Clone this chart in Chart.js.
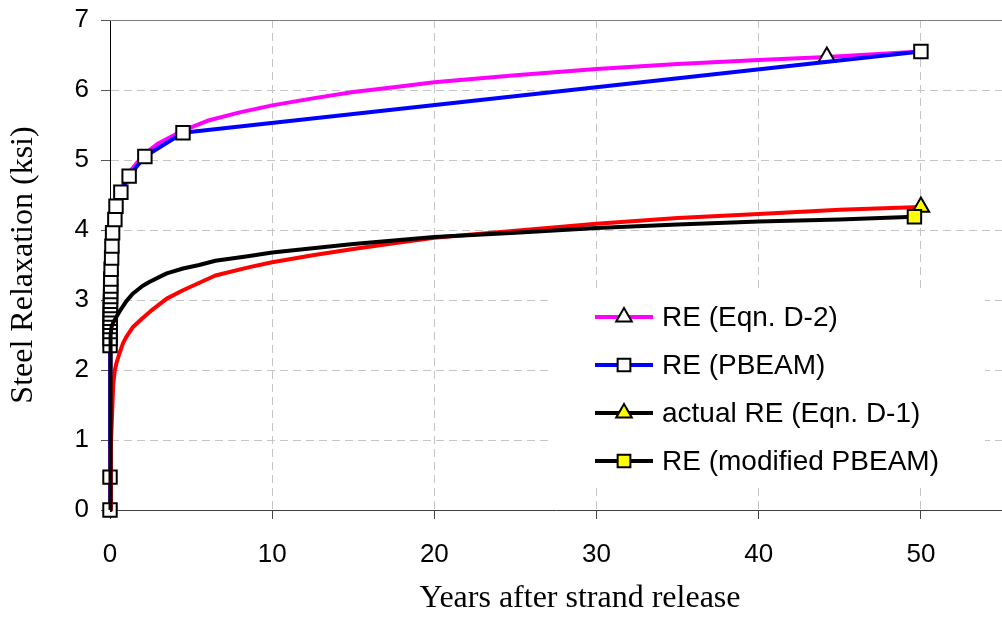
<!DOCTYPE html>
<html>
<head>
<meta charset="utf-8">
<script src="https://cdn.jsdelivr.net/npm/chart.js@4/dist/chart.umd.min.js"></script>
<style>
  body { margin: 0; background: #fff; }
  canvas { display: block; }
</style>
</head>
<body>
<canvas id="mychart" width="1002" height="620"></canvas>
<script>
// series names, in legend order
const seriesNames = ["RE (Eqn. D-2)", "RE (PBEAM)", "actual RE (Eqn. D-1)", "RE (modified PBEAM)"];

// RE (Eqn. D-2) - magenta, one marker only
const d2Years = [0, 0.005, 0.03, 0.08, 0.15, 0.3, 0.55, 1.1, 2.1, 3, 4.5, 6, 8, 10, 12.5, 15, 17.5, 20, 25, 30, 35, 40, 44.2, 50];
const d2Relax = [0, 2.4, 3.2, 3.55, 3.9, 4.2, 4.5, 4.8, 5.08, 5.24, 5.42, 5.56, 5.68, 5.78, 5.88, 5.97, 6.04, 6.11, 6.21, 6.30, 6.37, 6.43, 6.47, 6.55];
const d2MarkerYear = 44.2;

// RE (PBEAM) - blue, marker on every point
const pbYears = [0, 0.001, 0.003, 0.005, 0.007, 0.009, 0.012, 0.015, 0.018, 0.022, 0.026, 0.03, 0.035, 0.04, 0.045, 0.05, 0.07, 0.1, 0.12, 0.16, 0.3, 0.37, 0.67, 1.18, 2.15, 4.5, 50];
const pbRelax = [0, 0.47, 2.35, 2.45, 2.55, 2.62, 2.68, 2.74, 2.80, 2.86, 2.92, 2.98, 3.05, 3.12, 3.20, 3.30, 3.44, 3.60, 3.77, 3.96, 4.15, 4.34, 4.54, 4.77, 5.05, 5.39, 6.55];

// actual RE (Eqn. D-1) - red, marker at the end
const d1Years = [0, 0.05, 0.15, 0.2, 0.3, 0.4, 0.6, 0.8, 1.0, 1.4, 2, 2.5, 3.5, 4.5, 6.5, 8.6, 10, 12.5, 15, 17.5, 20, 25, 30, 35, 40, 45, 50];
const d1Relax = [0, 0.9, 1.5, 1.8, 2.0, 2.1, 2.25, 2.38, 2.47, 2.61, 2.74, 2.84, 3.02, 3.14, 3.35, 3.47, 3.54, 3.64, 3.73, 3.81, 3.89, 3.99, 4.09, 4.17, 4.23, 4.29, 4.33];

// RE (modified PBEAM) - black, marker at the end
const mpYears = [0, 0.02, 0.05, 0.1, 0.2, 0.4, 0.6, 1.0, 1.4, 2, 2.45, 3.5, 4.5, 5.5, 6.5, 8.6, 10, 12.5, 15, 17.5, 20, 25, 30, 35, 40, 45, 49.6];
const mpRelax = [0, 2.0, 2.5, 2.62, 2.68, 2.76, 2.84, 2.98, 3.09, 3.2, 3.26, 3.38, 3.45, 3.50, 3.56, 3.63, 3.68, 3.74, 3.80, 3.85, 3.90, 3.96, 4.03, 4.08, 4.12, 4.15, 4.19];

const xTicks = [0, 10, 20, 30, 40, 50];
const yTicks = [0, 1, 2, 3, 4, 5, 6, 7];

function pts(xs, ys) {
    return xs.map((x, i) => ({x: x, y: ys[i]}));
}

const sansFont = "'Liberation Sans', Arial, sans-serif";
const serifFont = "'Liberation Serif', 'Times New Roman', serif";

// legend drawn inside the plot, line sample + marker + text
const boxLegend = {
    id: "boxLegend",
    afterDatasetsDraw(chart) {
        const ctx = chart.ctx;
        const area = chart.chartArea;
        ctx.save();
        // plot top border
        ctx.strokeStyle = "#808080";
        ctx.lineWidth = 1;
        ctx.beginPath();
        ctx.moveTo(area.left, Math.round(area.top) + 0.5);
        ctx.lineTo(area.right, Math.round(area.top) + 0.5);
        ctx.stroke();

        ctx.fillStyle = "#fff";
        ctx.fillRect(552, 290, 433, 193);

        const rows = [317, 365, 413, 461];
        chart.data.datasets.forEach((ds, i) => {
            const y = rows[i];
            ctx.strokeStyle = ds.legendLine;
            ctx.lineWidth = 4;
            ctx.beginPath();
            ctx.moveTo(595, y);
            ctx.lineTo(653, y);
            ctx.stroke();
            drawMarker(ctx, ds.pointStyle, 624, y, 9, ds.pointBackgroundColor);
            ctx.fillStyle = "#000";
            ctx.font = "28px " + sansFont;
            ctx.textBaseline = "middle";
            ctx.textAlign = "left";
            ctx.fillText(ds.label, 662, y + 1);
        });
        ctx.restore();
    }
};

function drawMarker(ctx, style, x, y, r, fill) {
    ctx.beginPath();
    if (style === "rect") {
        const s = r * Math.SQRT1_2;
        ctx.rect(x - s, y - s, 2 * s, 2 * s);
    } else {
        ctx.moveTo(x, y - r);
        ctx.lineTo(x + 0.866 * r, y + 0.5 * r);
        ctx.lineTo(x - 0.866 * r, y + 0.5 * r);
        ctx.closePath();
    }
    ctx.fillStyle = fill;
    ctx.fill();
    ctx.strokeStyle = "#000";
    ctx.lineWidth = 2;
    ctx.stroke();
}

const lastOnly = (xs) => (c) => (c.dataIndex === xs.length - 1 ? 9.5 : 0);

new Chart("mychart", {
    type: "line",
    data: {
        datasets: [{
            label: seriesNames[0],
            data: pts(d2Years, d2Relax),
            borderColor: "#ff00ff",
            legendLine: "#ff00ff",
            borderWidth: 4,
            pointStyle: "triangle",
            pointBackgroundColor: "#fff",
            pointBorderColor: "#000",
            pointBorderWidth: 2,
            pointRadius: (c) => (d2Years[c.dataIndex] === d2MarkerYear ? 9.5 : 0),
            clip: false,
            order: 4
        }, {
            label: seriesNames[1],
            data: pts(pbYears, pbRelax),
            borderColor: "#0000ff",
            legendLine: "#0000ff",
            borderWidth: 4,
            pointStyle: "rect",
            pointBackgroundColor: "#fff",
            pointBorderColor: "#000",
            pointBorderWidth: 2,
            pointRadius: 9.5,
            clip: false,
            order: 3
        }, {
            label: seriesNames[2],
            data: pts(d1Years, d1Relax),
            borderColor: "#ff0000",
            legendLine: "#000",
            borderWidth: 4,
            pointStyle: "triangle",
            pointBackgroundColor: "#ffff00",
            pointBorderColor: "#000",
            pointBorderWidth: 2,
            pointRadius: lastOnly(d1Years),
            clip: false,
            order: 2
        }, {
            label: seriesNames[3],
            data: pts(mpYears, mpRelax),
            borderColor: "#000",
            legendLine: "#000",
            borderWidth: 4,
            pointStyle: "rect",
            pointBackgroundColor: "#ffff00",
            pointBorderColor: "#000",
            pointBorderWidth: 2,
            pointRadius: lastOnly(mpYears),
            clip: false,
            order: 1
        }]
    },
    options: {
        responsive: false,
        animation: false,
        devicePixelRatio: 1,
        events: [],
        layout: {autoPadding: false, padding: {top: 20, right: 0, left: 0, bottom: 0}},
        elements: {line: {tension: 0, borderJoinStyle: "round"}},
        plugins: {legend: {display: false}, tooltip: {enabled: false}},
        scales: {
            x: {
                type: "linear",
                min: 0,
                max: 55,
                afterBuildTicks: (s) => { s.ticks = xTicks.map(v => ({value: v})); },
                afterFit: (s) => {
                    s.height = 110;
                    s.paddingLeft = 0; s.paddingRight = 0; s.paddingTop = 0; s.paddingBottom = 0;
                },
                ticks: {color: "#000", padding: 20, maxRotation: 0, font: {family: sansFont, size: 26}},
                grid: {
                    color: (c) => (c.tick && c.tick.value === 0 ? "rgba(0,0,0,0)" : "#c4c4c4"),
                    tickColor: "#444",
                    tickLength: 9,
                    tickBorderDash: []
                },
                border: {color: "#404040", width: 1, dash: [8, 5]},
                title: {display: true, text: "      Years after strand release", color: "#000",
                        font: {family: serifFont, size: 32}, padding: {top: 0, bottom: 2}}
            },
            y: {
                min: 0,
                max: 7,
                afterBuildTicks: (s) => { s.ticks = yTicks.map(v => ({value: v})); },
                afterFit: (s) => {
                    s.width = 110;
                    s.paddingLeft = 0; s.paddingRight = 0; s.paddingTop = 0; s.paddingBottom = 0;
                },
                ticks: {color: "#000", padding: 12, font: {family: sansFont, size: 26}},
                grid: {
                    color: (c) => (c.tick && (c.tick.value === 0 || c.tick.value === 7) ? "rgba(0,0,0,0)" : "#c4c4c4"),
                    tickColor: "#555",
                    tickLength: 9,
                    tickBorderDash: []
                },
                border: {color: "#000", width: 1, dash: [8, 5]},
                title: {display: true, text: "Steel Relaxation (ksi)", color: "#000",
                        font: {family: serifFont, size: 32}, padding: {top: 4, bottom: 0}}
            }
        }
    },
    plugins: [boxLegend]
});
</script>
</body>
</html>
